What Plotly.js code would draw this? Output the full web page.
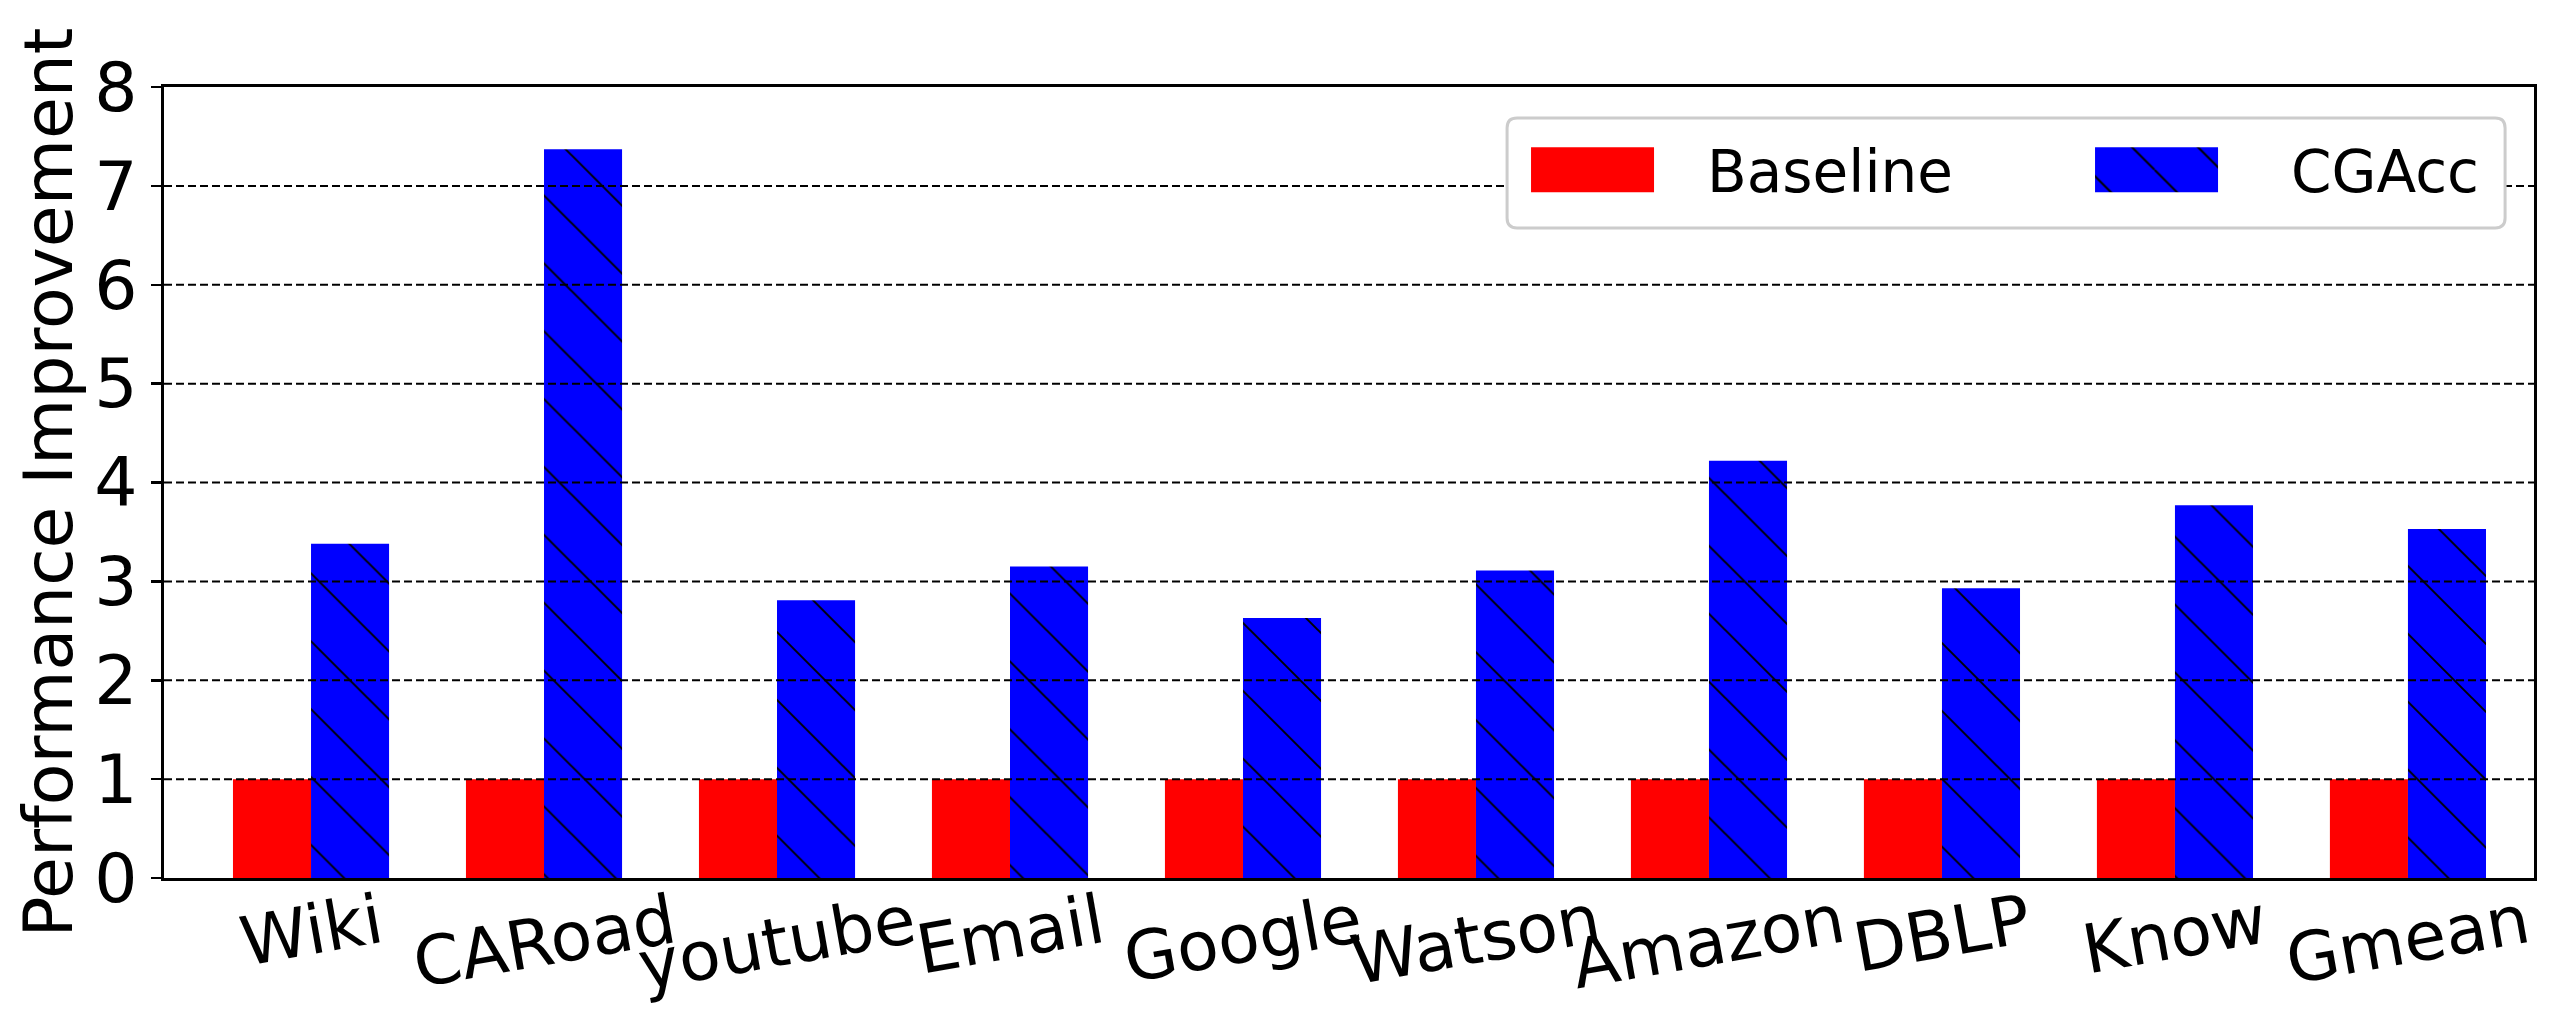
<!DOCTYPE html>
<html><head><meta charset="utf-8">
<script src="https://cdn.plot.ly/plotly-3.0.1.min.js"></script>
<style>html,body{margin:0;padding:0;background:#fff}</style>
</head><body>
<div id="chart" style="width:2572px;height:1027px"></div>
<script>
const categories = ['Wiki','CARoad','youtube','Email','Google','Watson','Amazon','DBLP','Know','Gmean'];
const baseline = [1,1,1,1,1,1,1,1,1,1];
const cgacc = [3.38,7.37,2.81,3.15,2.63,3.11,4.22,2.93,3.77,3.53];
const yTicks = [0,1,2,3,4,5,6,7,8];
const seriesNames = ['Baseline','CGAcc'];
const FONT = 'DejaVu Sans';

const traces = [
  {type:'bar', name:seriesNames[0], x:categories, y:baseline,
   marker:{color:'#ff0000', line:{width:0}}},
  {type:'bar', name:seriesNames[1], x:categories, y:cgacc,
   marker:{color:'#0000ff', line:{width:0},
     pattern:{shape:'\\', fgcolor:'#000000', bgcolor:'#0000ff', size:48, solidity:0.04, fillmode:'replace'}}}
];

const gridShapes = yTicks.slice(1, -1).map(v => ({
  type:'line', xref:'paper', x0:0, x1:1, yref:'y', y0:v, y1:v,
  line:{color:'#000', width:2, dash:'8px,4px'}, layer:'above'
}));

// legend frame (rounded, light grey), drawn over the grid
const LB = {x0:0.5667, x1:0.9878, y0:0.8217, y1:0.9608, rx:0.0042, ry:0.0126};
const legendFrame = {
  type:'path', xref:'paper', yref:'paper', layer:'above',
  path:`M${LB.x0+LB.rx},${LB.y0} L${LB.x1-LB.rx},${LB.y0} Q${LB.x1},${LB.y0} ${LB.x1},${LB.y0+LB.ry} ` +
       `L${LB.x1},${LB.y1-LB.ry} Q${LB.x1},${LB.y1} ${LB.x1-LB.rx},${LB.y1} ` +
       `L${LB.x0+LB.rx},${LB.y1} Q${LB.x0},${LB.y1} ${LB.x0},${LB.y1-LB.ry} ` +
       `L${LB.x0},${LB.y0+LB.ry} Q${LB.x0},${LB.y0} ${LB.x0+LB.rx},${LB.y0} Z`,
  fillcolor:'#ffffff', line:{color:'#cccccc', width:3}
};

const xLabels = categories.map(c => ({
  x:c, xref:'x', y:0, yref:'y', xanchor:'center', yanchor:'top', yshift:0,
  text:c, textangle:-10, showarrow:false, borderpad:0,
  font:{family:FONT, size:68, color:'#000'}
}));

const layout = {
  width:2572, height:1027,
  margin:{l:164, r:38, t:87, b:149, pad:0, autoexpand:false},
  paper_bgcolor:'#fff', plot_bgcolor:'#fff',
  font:{family:FONT, color:'#000'},
  barmode:'group', bargap:0.33, bargroupgap:0,
  xaxis:{range:[-0.631, 9.541], showticklabels:false, ticks:'', showline:true, linecolor:'#000',
         linewidth:3, mirror:true, showgrid:false, zeroline:false},
  yaxis:{range:[0,8], tickvals:yTicks, ticks:'outside', ticklen:10, tickwidth:2.5, tickcolor:'#000',
         showline:true, linewidth:3, linecolor:'#000', mirror:true, showgrid:false, zeroline:false,
         tickfont:{family:FONT, size:68, color:'#000'},
         title:{text:'Performance Improvement', font:{family:FONT, size:68, color:'#000'}, standoff:0}},
  legend:{orientation:'h', x:0.5709, xanchor:'left', y:0.895, yanchor:'middle',
          bgcolor:'rgba(0,0,0,0)', borderwidth:0,
          font:{family:FONT, size:58, color:'#000'}, itemwidth:180, traceorder:'normal',
          entrywidth:389, entrywidthmode:'pixels'},
  shapes:[...gridShapes, legendFrame],
  annotations:xLabels,
  showlegend:true
};

Plotly.newPlot('chart', traces, layout, {displayModeBar:false, staticPlot:true}).then(gd => {
  const NS = 'http://www.w3.org/2000/svg';
  // full-size hatch for the CGAcc legend swatch (Plotly caps legend pattern size)
  const T = 66;
  const defs = gd.querySelector('svg.main-svg defs') || gd.querySelector('defs');
  const pat = document.createElementNS(NS, 'pattern');
  pat.setAttribute('id', 'cgaccLegendHatch');
  pat.setAttribute('patternUnits', 'userSpaceOnUse');
  pat.setAttribute('width', T); pat.setAttribute('height', T);
  pat.setAttribute('x', 24.5); pat.setAttribute('y', 0);
  const bg = document.createElementNS(NS, 'rect');
  bg.setAttribute('width', T); bg.setAttribute('height', T); bg.setAttribute('fill', '#0000ff');
  const ln = document.createElementNS(NS, 'path');
  ln.setAttribute('d', `M${-T},0L0,${T}M0,0L${T},${T}M0,${-T}L${T},0`);
  ln.setAttribute('stroke', '#000'); ln.setAttribute('stroke-width', '2'); ln.setAttribute('fill', 'none');
  pat.appendChild(bg); pat.appendChild(ln);
  if (defs) defs.appendChild(pat);

  const swatch = ['M-81,-22.5H42V22.5H-81Z', 'M-101,-22.5H22V22.5H-101Z'];
  gd.querySelectorAll('.legend .traces').forEach((t, i) => {
    t.querySelectorAll('.legendpoints path').forEach(p => {
      p.setAttribute('d', swatch[i] || swatch[0]);
      if (i === 1 && defs) {
        p.style.setProperty('fill', 'url(#cgaccLegendHatch)');
        p.style.setProperty('fill-opacity', '1');
      }
    });
  });
});
</script>
</body></html>
